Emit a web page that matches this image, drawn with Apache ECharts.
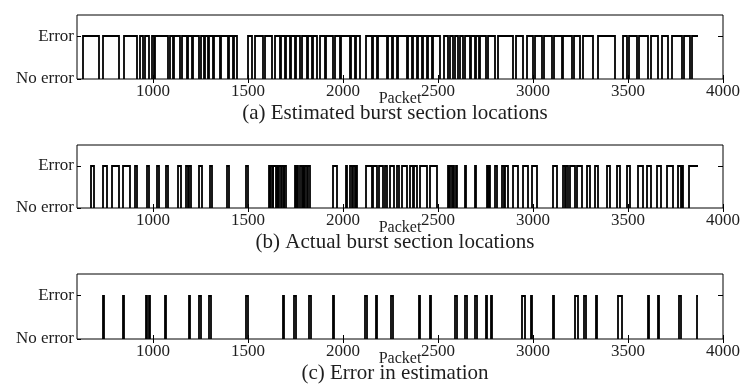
<!DOCTYPE html>
<html>
<head>
<meta charset="utf-8">
<script src="https://cdn.jsdelivr.net/npm/echarts@6/dist/echarts.min.js"></script>
<style>
  html, body { margin: 0; padding: 0; background: #fff; }
  #chart { width: 744px; height: 387px; }
</style>
</head>
<body>
<div id="chart"></div>
<script>
// Packet axis range and tick labels
const xMin = 600;
const xMax = 4000;
const xTicks = [1000, 1500, 2000, 2500, 3000, 3500, 4000];
const yTicks = [0, 1];
const yTickLabels = ['No error', 'Error'];

// Last packet of every trace
const traceEnd = 3870;

// (a) Estimated burst sections: [first packet, last packet] of each Error run
const estimatedBursts = [
  [633, 717], [735, 821], [847, 914], [932, 946], [958, 981], [993, 1005],
  [1010, 1077], [1089, 1107], [1112, 1142], [1150, 1177], [1183, 1204],
  [1210, 1244], [1250, 1268], [1274, 1291], [1297, 1317], [1323, 1353],
  [1360, 1393], [1399, 1423], [1428, 1444],
  [1500, 1519], [1537, 1581], [1588, 1625], [1642, 1668], [1675, 1695],
  [1702, 1721], [1728, 1747], [1754, 1774], [1782, 1809], [1816, 1835],
  [1842, 1865], [1878, 1905], [1912, 1949], [1956, 1984], [1992, 2037],
  [2044, 2063], [2070, 2089], [2121, 2151], [2158, 2177], [2184, 2230],
  [2237, 2256], [2263, 2282], [2290, 2335], [2342, 2361], [2368, 2388],
  [2395, 2414], [2421, 2440], [2447, 2467], [2474, 2510], [2530, 2554],
  [2561, 2581], [2588, 2607], [2614, 2633], [2640, 2668], [2676, 2695],
  [2702, 2715],
  [2721, 2753], [2765, 2800], [2817, 2896], [2910, 2949], [2967, 3002],
  [3010, 3046], [3058, 3098], [3110, 3151], [3160, 3203], [3216, 3247],
  [3265, 3317], [3344, 3431], [3475, 3493], [3507, 3545], [3559, 3607],
  [3619, 3659], [3677, 3712], [3730, 3782], [3795, 3826], [3838, 3870]
];

// (b) Actual burst sections
const actualBursts = [
  [676, 688], [735, 759], [782, 823], [844, 879], [905, 914], [966, 979],
  [1019, 1031], [1066, 1079], [1133, 1145], [1175, 1184], [1190, 1200],
  [1244, 1258], [1300, 1312], [1391, 1401],
  [1488, 1498], [1610, 1618], [1622, 1630], [1634, 1645], [1650, 1660],
  [1665, 1675], [1680, 1688], [1692, 1698], [1745, 1752], [1758, 1765],
  [1772, 1782], [1790, 1796], [1800, 1810], [1815, 1828], [1946, 1967],
  [2017, 2022], [2035, 2045], [2052, 2062], [2068, 2074],
  [2121, 2151], [2160, 2177], [2191, 2209], [2221, 2233], [2247, 2268],
  [2282, 2296], [2309, 2335], [2353, 2368], [2374, 2388], [2405, 2440],
  [2458, 2493], [2552, 2560], [2565, 2575], [2578, 2583], [2596, 2601],
  [2640, 2645], [2693, 2698],
  [2756, 2762], [2768, 2774], [2800, 2809], [2835, 2848], [2855, 2870],
  [2896, 2923], [2949, 2975], [2993, 3019], [3107, 3124], [3160, 3170],
  [3176, 3186], [3195, 3221], [3230, 3256], [3282, 3300], [3326, 3344],
  [3388, 3405], [3440, 3458], [3493, 3510], [3554, 3577], [3598, 3619],
  [3651, 3672], [3703, 3735], [3765, 3778], [3784, 3791], [3823, 3870]
];

// (c) Packets where the estimate and the actual state disagree
const estimationErrors = [
  [735, 741], [842, 848], [964, 970], [977, 983], [1062, 1070], [1188, 1194],
  [1244, 1250], [1297, 1304], [1490, 1498], [1683, 1689], [1744, 1750],
  [1823, 1829], [1946, 1952], [2118, 2124], [2174, 2180], [2252, 2262],
  [2399, 2405], [2458, 2464], [2592, 2598], [2644, 2650], [2697, 2703],
  [2753, 2759], [2779, 2785], [2940, 2958], [2990, 2996], [3103, 3110],
  [3221, 3238], [3271, 3277], [3332, 3338], [3449, 3466], [3604, 3610],
  [3656, 3662], [3770, 3777], [3861, 3870]
];

const captions = [
  '(a) Estimated burst section locations',
  '(b) Actual burst section locations',
  '(c) Error in estimation'
];

const FONT = '"Liberation Serif", "Times New Roman", serif';
const TXT = '#1e1e1e';
const panels = [
  { top: 15, height: 64, runs: estimatedBursts },
  { top: 145, height: 63, runs: actualBursts },
  { top: 274, height: 65, runs: estimationErrors }
];

// One Error run: rise from No error, hold at Error, fall back (unless the trace ends high).
// The No-error stretches lie on the panel's bottom border.
function renderRun(params, api) {
  const s = api.value(0), e = api.value(1);
  const lo = api.coord([s, 0]);
  const hi = api.coord([e, 1]);
  const x0 = Math.round(lo[0]);
  const x1 = Math.max(Math.round(hi[0]), x0 + 1);
  const yb = Math.round(lo[1]);
  const yt = Math.round(hi[1]);
  const pts = [[x0, yb], [x0, yt], [x1, yt]];
  if (e < traceEnd) pts.push([x1, yb]);
  return {
    type: 'polyline',
    shape: { points: pts },
    style: { stroke: '#000', lineWidth: 1.8, fill: null, lineJoin: 'miter' },
    silent: true
  };
}

const grid = [], xAxis = [], yAxis = [], series = [], title = [];
panels.forEach(function (p, i) {
  grid.push({
    left: 77, right: 21, top: p.top, height: p.height,
    show: true, borderColor: '#000', borderWidth: 1, backgroundColor: 'transparent'
  });
  // bottom packet axis with labels
  xAxis.push({
    type: 'value', gridIndex: i, min: xMin, max: xMax, position: 'bottom',
    name: 'Packet', nameLocation: 'middle', nameGap: 12, nameMoveOverlap: false,
    nameTextStyle: { fontFamily: FONT, fontSize: 16, color: TXT },
    axisLine: { show: false },
    splitLine: { show: false },
    axisTick: { show: true, inside: true, length: 4, customValues: xTicks, lineStyle: { color: '#000' } },
    axisLabel: {
      show: true, customValues: xTicks, margin: 4, fontFamily: FONT, fontSize: 17, color: TXT,
      formatter: function (v) { return String(v); }
    }
  });
  // mirrored ticks along the top edge
  xAxis.push({
    type: 'value', gridIndex: i, min: xMin, max: xMax, position: 'top',
    axisLine: { show: false }, splitLine: { show: false },
    axisTick: { show: true, inside: true, length: 4, customValues: xTicks, lineStyle: { color: '#000' } },
    axisLabel: { show: false }
  });
  yAxis.push({
    type: 'value', gridIndex: i, min: 0, max: 1.5, position: 'left',
    axisLine: { show: false }, splitLine: { show: false },
    axisTick: { show: true, inside: true, length: 4, customValues: yTicks, lineStyle: { color: '#000' } },
    axisLabel: {
      show: true, customValues: yTicks, margin: 3, fontFamily: FONT, fontSize: 17, color: TXT,
      formatter: function (v) { return yTickLabels[yTicks.indexOf(v)]; }
    }
  });
  yAxis.push({
    type: 'value', gridIndex: i, min: 0, max: 1.5, position: 'right',
    axisLine: { show: false }, splitLine: { show: false },
    axisTick: { show: true, inside: true, length: 5, customValues: [1], lineStyle: { color: '#000' } },
    axisLabel: { show: false }
  });
  series.push({
    type: 'custom', xAxisIndex: i * 2, yAxisIndex: i * 2,
    data: p.runs, encode: { x: [0, 1] },
    renderItem: renderRun,
    animation: false, silent: true
  });
  title.push({
    text: captions[i], left: 390, textAlign: 'center', top: p.top + p.height + 19,
    textStyle: { fontFamily: FONT, fontSize: 21, fontWeight: 'normal', color: TXT }
  });
});

const chart = echarts.init(document.getElementById('chart'), null, { renderer: 'canvas' });
chart.setOption({
  backgroundColor: '#fff',
  animation: false,
  title: title,
  grid: grid,
  xAxis: xAxis,
  yAxis: yAxis,
  series: series
});
</script>
</body>
</html>
